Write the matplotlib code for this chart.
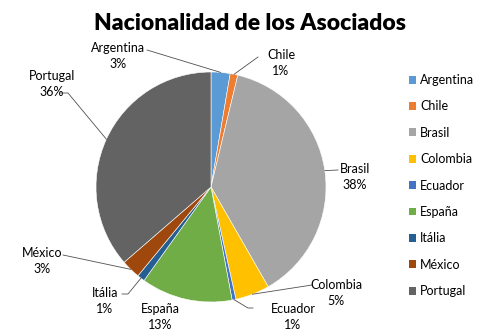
import matplotlib.pyplot as plt
from matplotlib.patches import Patch
import numpy as np

paises = ["Argentina", "Chile", "Brasil", "Colombia", "Ecuador",
          "España", "Itália", "México", "Portugal"]
asociados = [5, 2, 71, 9, 1, 24, 2, 5, 68]
colores = ["#5B9BD5", "#ED7D31", "#A5A5A5", "#FFC000", "#4472C4",
           "#70AD47", "#255E91", "#9E480E", "#636363"]

W, H = 502, 334
CX, CY, R = 211, 187, 115   # pie centre and radius in pixels


def px(x, y):
    # pixel position -> pie data coordinates
    return (x - CX) / R, (CY - y) / R


# label block centre and leader-line points (pixels) for each slice
etiquetas = {
    "Argentina": ((118, 56), [(147, 50)]),
    "Chile": ((281, 63), [(258, 57)]),
    "Brasil": ((355, 177), [(338, 170)]),
    "Colombia": ((336, 293), [(312, 285)]),
    "Ecuador": ((293, 317), [(253, 308), (248, 308)]),
    "España": ((160, 317), []),
    "Itália": ((105, 301), [(122, 294), (128, 294)]),
    "México": ((42, 261), [(63, 255)]),
    "Portugal": ((52, 84), [(60, 93), (68, 93)]),
}

plt.rcParams["font.family"] = ["Lato", "DejaVu Sans"]

fig = plt.figure(figsize=(W / 100, H / 100), dpi=100)
ax = fig.add_axes([(CX - R) / W, (H - CY - R) / H, 2 * R / W, 2 * R / H])

wedges, _ = ax.pie(asociados, colors=colores, startangle=90, counterclock=False,
                   radius=1, wedgeprops=dict(edgecolor="white", linewidth=0.4))
ax.set_xlim(-1, 1)
ax.set_ylim(-1, 1)
ax.set_aspect("equal")
ax.axis("off")

total = sum(asociados)
for w, nombre, n in zip(wedges, paises, asociados):
    (tx, ty), pts = etiquetas[nombre]
    pct = 100 * n / total
    x, y = px(tx, ty)
    ax.text(x, y, f"{nombre}\n{pct:.0f}%", ha="center", va="center",
            fontsize=9, linespacing=1.4, clip_on=False)
    if pts:
        ang = np.deg2rad((w.theta1 + w.theta2) / 2)
        linea = [px(*p) for p in pts] + [(np.cos(ang), np.sin(ang))]
        xs, ys = zip(*linea)
        ax.plot(xs, ys, color="#505050", lw=0.6, clip_on=False)

fig.suptitle("Nacionalidad de los Asociados", x=250 / W, y=1 - 23 / H,
             va="center", fontsize=16.5, fontweight="heavy")

handles = [Patch(facecolor=c, edgecolor="none") for c in colores]
fig.legend(handles, paises, loc="upper left", bbox_to_anchor=(404 / W, 1 - 69 / H),
           frameon=False, fontsize=9, labelspacing=1.15, handlelength=0.6,
           handleheight=0.6, handletextpad=0.3, borderaxespad=0)

fig.savefig("out.png", dpi=100)
